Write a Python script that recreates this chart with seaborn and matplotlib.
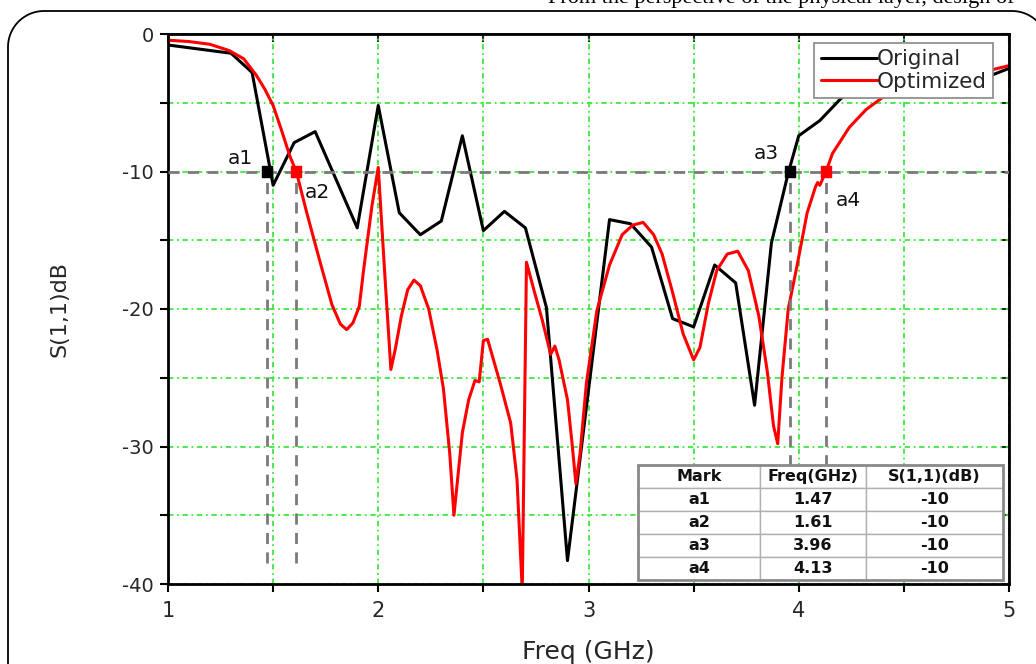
import matplotlib
matplotlib.use("Agg")
import numpy as np
import matplotlib.pyplot as plt
import seaborn as sns
from matplotlib.patches import Rectangle
from matplotlib.lines import Line2D

# === DATA ===
orig_freq = [1.0, 1.2, 1.3, 1.4, 1.5, 1.6, 1.7, 1.9, 2.0, 2.1, 2.2, 2.3, 2.4, 2.5,
             2.6, 2.7, 2.8, 2.9, 3.1, 3.2, 3.3, 3.4, 3.5, 3.6, 3.7, 3.79, 3.87,
             3.95, 4.0, 4.1, 4.2, 4.3, 4.5, 4.7, 4.9, 5.0]
orig_s11 = [-0.8, -1.2, -1.4, -2.8, -11.0, -7.9, -7.1, -14.1, -5.2, -13.0, -14.6,
            -13.6, -7.4, -14.3, -12.9, -14.1, -19.9, -38.3, -13.5, -13.8, -15.5,
            -20.7, -21.3, -16.8, -18.1, -27.0, -15.2, -10.1, -7.4, -6.3, -4.7,
            -3.6, -3.2, -3.4, -3.1, -2.5]

opt_freq = [1.00, 1.10, 1.20, 1.29, 1.36, 1.42, 1.46, 1.50, 1.54, 1.58, 1.61, 1.66,
            1.72, 1.78, 1.82, 1.85, 1.88, 1.91, 1.93, 1.97, 2.00, 2.03, 2.06, 2.08,
            2.11, 2.14, 2.17, 2.20, 2.24, 2.28, 2.31, 2.34, 2.36, 2.38, 2.40, 2.43,
            2.46, 2.48, 2.50, 2.52, 2.55, 2.58, 2.63, 2.66, 2.685, 2.705, 2.74, 2.78,
            2.82, 2.84, 2.86, 2.90, 2.92, 2.94, 2.96, 2.99, 3.04, 3.10, 3.16, 3.21,
            3.26, 3.31, 3.35, 3.40, 3.45, 3.50, 3.53, 3.57, 3.61, 3.66, 3.71, 3.76,
            3.81, 3.85, 3.88, 3.90, 3.92, 3.95, 3.99, 4.04, 4.08, 4.09, 4.10, 4.13,
            4.16, 4.24, 4.32, 4.40, 4.55, 4.70, 4.85, 4.92, 5.00]
opt_s11 = [-0.45, -0.55, -0.75, -1.2, -1.8, -3.0, -4.0, -5.2, -7.0, -8.9, -10.0, -13.0,
           -16.4, -19.7, -21.1, -21.5, -21.0, -19.8, -17.2, -12.5, -9.7, -17.2, -24.4, -23.0,
           -20.5, -18.6, -17.9, -18.3, -20.0, -23.0, -25.8, -30.5, -35.0, -32.0, -29.0, -26.6,
           -25.2, -25.3, -22.3, -22.2, -23.8, -25.4, -28.3, -32.4, -40.5, -16.6, -18.6, -20.8,
           -23.3, -22.7, -23.7, -26.6, -29.5, -32.7, -30.5, -25.4, -20.1, -16.8, -14.6, -13.9,
           -13.7, -14.6, -16.0, -18.8, -21.8, -23.7, -22.8, -19.6, -17.2, -16.0, -15.8, -17.2,
           -20.5, -24.5, -28.5, -29.8, -25.0, -20.0, -17.0, -13.0, -11.1, -10.8, -11.0, -10.0,
           -8.7, -6.8, -5.5, -4.6, -3.6, -3.0, -2.7, -2.6, -2.3]

mark_names = ["a1", "a2", "a3", "a4"]
mark_freq = [1.47, 1.61, 3.96, 4.13]
mark_s11 = [-10, -10, -10, -10]
mark_colors = ["black", "red", "black", "red"]
table_header = ["Mark", "Freq(GHz)", "S(1,1)(dB)"]

# === STYLE ===
sns.set_theme(style="white")
plt.rcParams["font.family"] = ["DejaVu Sans"]
plt.rcParams["axes.unicode_minus"] = False

W, H = 1036, 664
fig = plt.figure(figsize=(W / 100, H / 100), dpi=100, facecolor="white")
ax = fig.add_axes([168 / W, 80 / H, 841 / W, 550 / H])

grid_color = "#3fe83f"
ax.set_xlim(1, 5)
ax.set_ylim(-40, 0)
ax.set_xticks([1, 2, 3, 4, 5])
ax.set_xticks([1.5, 2.5, 3.5, 4.5], minor=True)
ax.set_yticks([-40, -30, -20, -10, 0])
ax.set_yticks([-35, -25, -15, -5], minor=True)
ax.grid(which="both", color=grid_color, ls=(0, (3, 2, 1, 2)), lw=1.3)
ax.set_axisbelow(True)

# === CURVES ===
sns.lineplot(x=orig_freq, y=orig_s11, ax=ax, color="black", lw=2.2,
             label="Original", sort=False, estimator=None)
sns.lineplot(x=opt_freq, y=opt_s11, ax=ax, color="red", lw=2.2,
             label="Optimized", sort=False, estimator=None)

# === -10 dB MARKERS ===
ax.axhline(-10, color="#7a7a7a", ls=(0, (4, 3)), lw=2, zorder=3)
ax.vlines(mark_freq, -38.5, -10, color="#7a7a7a", ls=(0, (4, 3)), lw=2, zorder=3)
ax.scatter(mark_freq, mark_s11, marker="s", c=mark_colors, s=55, zorder=6)
offsets = [(-19, 9), (15, -15), (-17, 13), (16, -21)]
for name, f, s, off in zip(mark_names, mark_freq, mark_s11, offsets):
    ax.annotate(name, (f, s), xytext=off, textcoords="offset points",
                ha="center", va="center", fontsize=14.5, color="#111111")

# === AXES ===
for sp in ax.spines.values():
    sp.set_color("black")
    sp.set_linewidth(2)
ax.tick_params(which="both", direction="out", length=6, width=1.5, color="black",
               left=True, bottom=True)
ax.tick_params(axis="x", labelsize=15, pad=6)
ax.tick_params(axis="y", labelsize=14, pad=4)
secx = ax.secondary_xaxis("top")
secx.set_xticks([1, 1.5, 2, 2.5, 3, 3.5, 4, 4.5, 5])
secx.tick_params(direction="in", length=6, width=1.5, labeltop=False)
secy = ax.secondary_yaxis("right")
secy.set_yticks([-40, -35, -30, -25, -20, -15, -10, -5, 0])
secy.tick_params(direction="in", length=6, width=1.5, labelright=False)
ax.set_xlabel("Freq (GHz)", fontsize=18, labelpad=14)
ax.set_ylabel("S(1,1)dB", fontsize=16, labelpad=38)

leg = ax.legend(loc="upper right", bbox_to_anchor=(0.981, 0.984), fontsize=15.5,
                handlelength=2.6, handletextpad=0.0, borderpad=0.3,
                labelspacing=0.12, frameon=True, fancybox=False, framealpha=1,
                edgecolor="#888888", borderaxespad=0)
leg.get_frame().set_linewidth(1.2)

# === TABLE ===
rows = [[n, f"{f:.2f}", f"{s:d}"] for n, f, s in zip(mark_names, mark_freq, mark_s11)]
bbox = [0.559, 0.007, 0.434, 0.209]
tbl = ax.table(cellText=rows, colLabels=table_header, cellLoc="center",
               colWidths=[122, 106, 137], bbox=bbox)
tbl.auto_set_font_size(False)
tbl.set_zorder(8)
for cell in tbl.get_celld().values():
    cell.set_edgecolor("#b0b0b0")
    cell.set_linewidth(1)
    cell.set_facecolor("white")
    cell.get_text().set_fontsize(11.5)
    cell.get_text().set_fontweight("bold")
    cell.get_text().set_color("#111111")
ax.add_patch(Rectangle((bbox[0], bbox[1]), bbox[2], bbox[3], transform=ax.transAxes,
                       fill=False, ec="#8a8a8a", lw=2, zorder=9))

# === FRAME AND PAGE TEXT ===
# rounded page frame, pixel coords from top-left: left edge x=8, top y=11, radius 36
r = 36
t = np.linspace(0, np.pi / 2, 20)
left_arc_x = 8 + r - r * np.cos(t)
left_arc_y = 11 + r - r * np.sin(t)
right_arc_x = 1048 - r + r * np.sin(t)
right_arc_y = 11 + r - r * np.cos(t)
fx = np.concatenate([[8], left_arc_x, right_arc_x, [1048]])
fy = np.concatenate([[H + 5], left_arc_y, right_arc_y, [H + 5]])
fig.add_artist(Line2D(fx / W, 1 - fy / H, transform=fig.transFigure,
                      color="black", lw=1.3))
fig.text(548 / W, 1 - 3 / H, "From the perspective of the physical layer, design of",
         family="Liberation Serif", fontsize=16, va="baseline", ha="left", color="black")

plt.savefig("out.png", dpi=100)
plt.close()
